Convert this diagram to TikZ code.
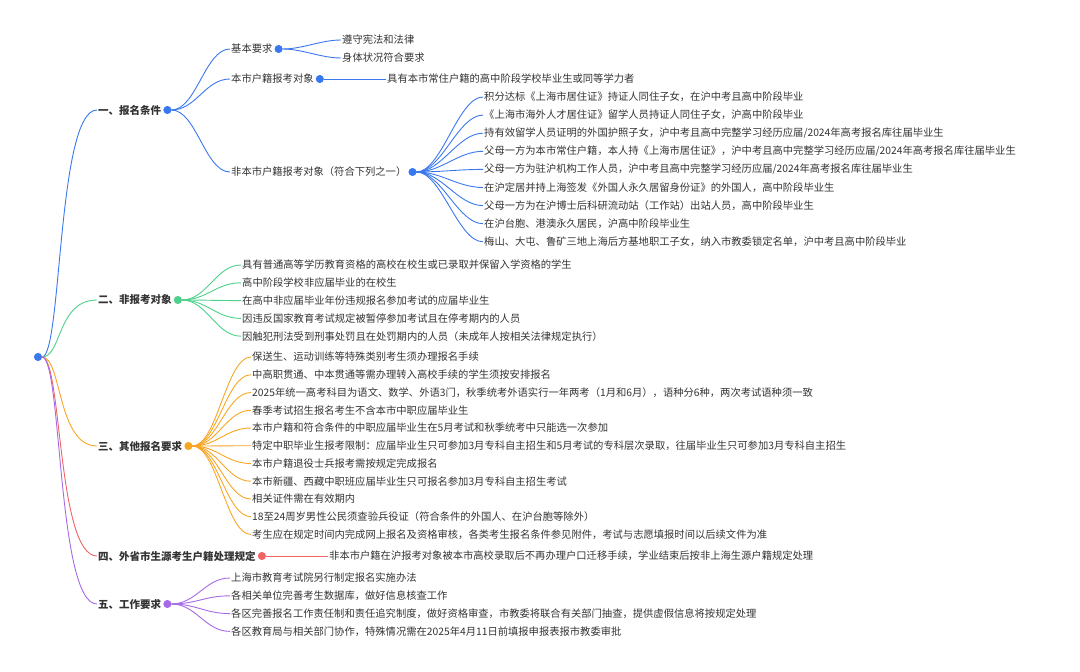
\documentclass[tikz,border=0pt]{standalone}
\usepackage{fontspec}
\setmainfont{Noto Sans CJK SC}
\begin{document}
\begin{tikzpicture}[x=1pt,y=-1pt,
 lbl/.style={anchor=west,inner sep=1pt,font=\fontsize{10.3}{12}\selectfont,text=black!80},
 hd/.style={lbl,font=\fontsize{10.5}{12}\selectfont\bfseries},
 dot/.style={circle,draw,fill=white,inner sep=0pt,minimum size=7pt,line width=1pt},
 br/.style={line width=0.9pt},
 cA/.style={color={rgb,255:red,58;green,120;blue,240}},
 cB/.style={color={rgb,255:red,76;green,208;blue,138}},
 cC/.style={color={rgb,255:red,247;green,166;blue,35}},
 cD/.style={color={rgb,255:red,240;green,100;blue,100}},
 cE/.style={color={rgb,255:red,166;green,106;blue,230}}]
\useasboundingbox (0,0) rectangle (1080,672);
\node[dot,cA] (root) at (38,357) {};
% level 1
\node[hd] (h1) at (97,110) {一、报名条件};
\node[hd] (h2) at (97,300) {二、非报考对象};
\node[hd] (h3) at (97,446) {三、其他报名要求};
\node[hd] (h4) at (97,556) {四、外省市生源考生户籍处理规定};
\node[hd] (h5) at (97,604) {五、工作要求};
\foreach \i/\c in {1/cA,2/cB,3/cC,4/cD,5/cE}{
 \node[dot,\c] (d\i) at ([xshift=5pt]h\i.east) {};
 \draw[br,\c] (root.east) .. controls +(20,0) and +(-40,0) .. (h\i.west);
}
% branch 1
\node[lbl] (s1) at (230,49) {基本要求};
\node[lbl] (s2) at (230,79) {本市户籍报考对象};
\node[lbl] (s3) at (230,172) {非本市户籍报考对象（符合下列之一）};
\foreach \i in {1,2,3}{
 \node[dot,cA] (e\i) at ([xshift=5pt]s\i.east) {};
 \draw[br,cA] (d1.east) .. controls +(25,0) and +(-25,0) .. (s\i.west);
}
\node[lbl] (k1) at (341,40) {遵守宪法和法律};
\node[lbl] (k2) at (341,58) {身体状况符合要求};
\foreach \i in {1,2}{\draw[br,cA] (e1.east) .. controls +(20,0) and +(-20,0) .. (k\i.west);}
\node[lbl] (m1) at (386,79) {具有本市常住户籍的高中阶段学校毕业生或同等学力者};
\draw[br,cA] (e2.east) -- (m1.west);
\foreach \t [count=\i] in {积分达标《上海市居住证》持证人同住子女，在沪中考且高中阶段毕业,
 《上海市海外人才居住证》留学人员持证人同住子女，沪高中阶段毕业,
 持有效留学人员证明的外国护照子女，沪中考且高中完整学习经历应届/2024年高考报名库往届毕业生,
 父母一方为本市常住户籍，本人持《上海市居住证》，沪中考且高中完整学习经历应届/2024年高考报名库往届毕业生,
 父母一方为驻沪机构工作人员，沪中考且高中完整学习经历应届/2024年高考报名库往届毕业生,
 在沪定居并持上海签发《外国人永久居留身份证》的外国人，高中阶段毕业生,
 父母一方为在沪博士后科研流动站（工作站）出站人员，高中阶段毕业生,
 在沪台胞、港澳永久居民，沪高中阶段毕业生,
 梅山、大屯、鲁矿三地上海后方基地职工子女，纳入市教委锁定名单，沪中考且高中阶段毕业}{
 \node[lbl] (n\i) at (483,{97+(\i-1)*18.1}) {\t};
 \draw[br,cA] (e3.east) .. controls +(25,0) and +(-25,0) .. (n\i.west);
}
% branch 2
\foreach \t [count=\i] in {具有普通高等学历教育资格的高校在校生或已录取并保留入学资格的学生,
 高中阶段学校非应届毕业的在校生,
 在高中非应届毕业年份违规报名参加考试的应届毕业生,
 因违反国家教育考试规定被暂停参加考试且在停考期内的人员,
 因触犯刑法受到刑事处罚且在处罚期内的人员（未成年人按相关法律规定执行）}{
 \node[lbl] (p\i) at (241,{265+(\i-1)*17.8}) {\t};
 \draw[br,cB] (d2.east) .. controls +(25,0) and +(-25,0) .. (p\i.west);
}
% branch 3
\foreach \t [count=\i] in {保送生、运动训练等特殊类别考生须办理报名手续,
 中高职贯通、中本贯通等需办理转入高校手续的学生须按安排报名,
 2025年统一高考科目为语文、数学、外语3门，秋季统考外语实行一年两考（1月和6月），语种分6种，两次考试语种须一致,
 春季考试招生报名考生不含本市中职应届毕业生,
 本市户籍和符合条件的中职应届毕业生在5月考试和秋季统考中只能选一次参加,
 特定中职毕业生报考限制：应届毕业生只可参加3月专科自主招生和5月考试的专科层次录取，往届毕业生只可参加3月专科自主招生,
 本市户籍退役士兵报考需按规定完成报名,
 本市新疆、西藏中职班应届毕业生只可报名参加3月专科自主招生考试,
 相关证件需在有效期内,
 18至24周岁男性公民须查验兵役证（符合条件的外国人、在沪台胞等除外）,
 考生应在规定时间内完成网上报名及资格审核，各类考生报名条件参见附件，考试与志愿填报时间以后续文件为准}{
 \node[lbl] (q\i) at (251,{357+(\i-1)*17.75}) {\t};
 \draw[br,cC] (d3.east) .. controls +(25,0) and +(-25,0) .. (q\i.west);
}
% branch 4
\node[lbl] (r1) at (328,556) {非本市户籍在沪报考对象被本市高校录取后不再办理户口迁移手续，学业结束后按非上海生源户籍规定处理};
\draw[br,cD] (d4.east) -- (r1.west);
% branch 5
\foreach \t [count=\i] in {上海市教育考试院另行制定报名实施办法,
 各相关单位完善考生数据库，做好信息核查工作,
 各区完善报名工作责任制和责任追究制度，做好资格审查，市教委将联合有关部门抽查，提供虚假信息将按规定处理,
 各区教育局与相关部门协作，特殊情况需在2025年4月11日前填报申报表报市教委审批}{
 \node[lbl] (u\i) at (230,{578+(\i-1)*17.8}) {\t};
 \draw[br,cE] (d5.east) .. controls +(25,0) and +(-25,0) .. (u\i.west);
}
\end{tikzpicture}
\end{document}
